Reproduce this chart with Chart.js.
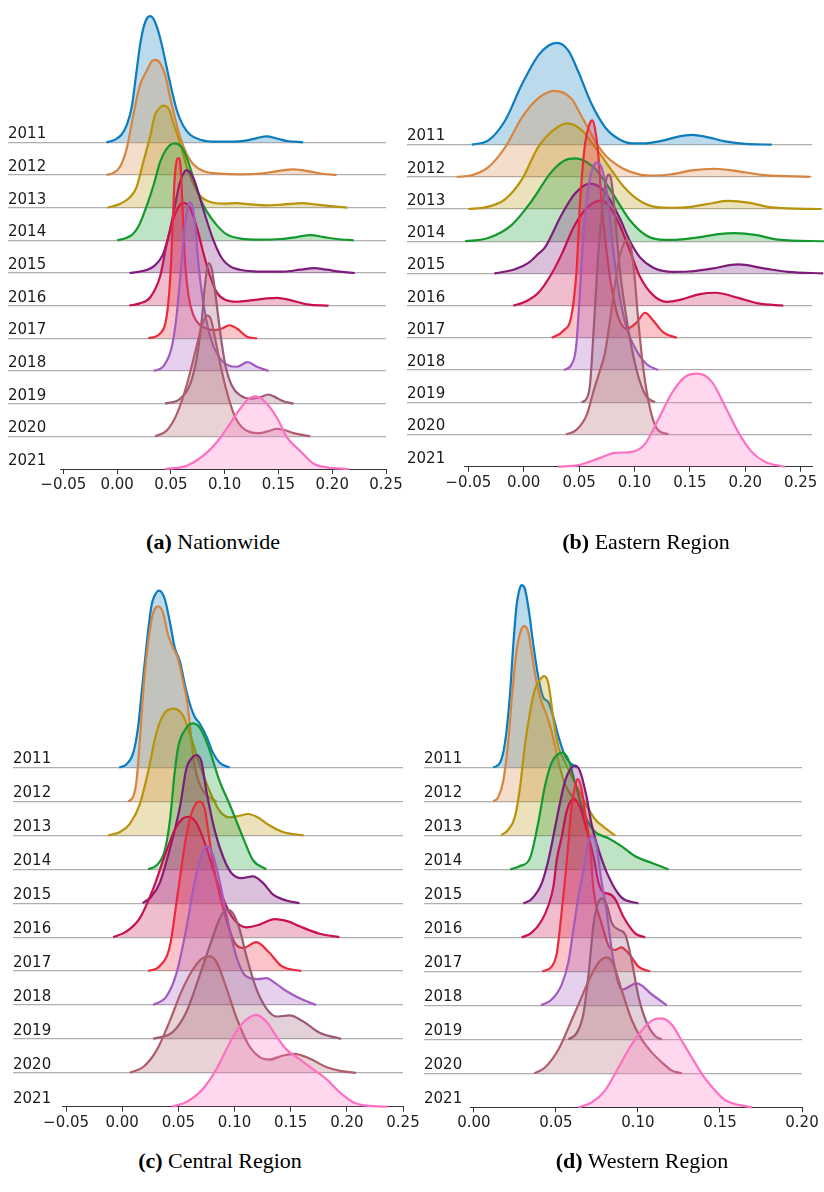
<!DOCTYPE html>
<html lang="en">
<head>
  <meta charset="UTF-8">
  <title>Ridgeline density by region, 2011-2021</title>
  <script src="https://cdn.jsdelivr.net/npm/chart.js"></script>
  <style>
    body { margin: 0; background: #fff; }
    #page { position: relative; width: 824px; height: 1192px; }
    canvas { position: absolute; }
    .cap {
      position: absolute;
      width: 400px;
      text-align: center;
      font-family: 'Liberation Serif', 'Times New Roman', serif;
      font-size: 22px;
      line-height: 24px;
      color: #000;
    }
  </style>
</head>
<body>
<div id="page">
  <canvas id="chartC" width="425" height="570" style="left:0;top:570px"></canvas>
  <canvas id="chartA" width="405" height="500" style="left:0;top:0"></canvas>
  <canvas id="chartB" width="419" height="500" style="left:405px;top:0"></canvas>
  <canvas id="chartD" width="419" height="570" style="left:405px;top:570px"></canvas>
  <div class="cap" style="left:13px;top:530px"><b>(a)</b> Nationwide</div>
  <div class="cap" style="left:446px;top:530px"><b>(b)</b> Eastern Region</div>
  <div class="cap" style="left:20px;top:1149px"><b>(c)</b> Central Region</div>
  <div class="cap" style="left:442px;top:1149px"><b>(d)</b> Western Region</div>
</div>

<script>
// years, top row first
var years = ['2011', '2012', '2013', '2014', '2015', '2016', '2017', '2018', '2019', '2020', '2021'];

// x tick values
var ticksWide = [-0.05, 0.00, 0.05, 0.10, 0.15, 0.20, 0.25];
var ticksWest = [0.00, 0.05, 0.10, 0.15, 0.20];

// density curves: [x, height in rows], one list per year
var nationwide = [
  [[-0.010,0],[-0.002,0.08],[0.004,0.23],[0.009,0.53],[0.0136,1.08],[0.0177,2.08],[0.0214,2.99],[0.0251,3.58],[0.0282,3.82],[0.0307,3.86],[0.0338,3.78],[0.0375,3.48],[0.0416,2.98],[0.0462,2.28],[0.0509,1.58],[0.0555,0.98],[0.0611,0.53],[0.0679,0.23],[0.0772,0.08],[0.093,0.02],[0.108,0.02],[0.121,0.06],[0.130,0.13],[0.139,0.18],[0.149,0.11],[0.158,0.04],[0.173,0]],
  [[-0.010,0],[-0.003,0.07],[0.003,0.27],[0.009,0.82],[0.015,1.82],[0.021,2.72],[0.028,3.22],[0.032,3.47],[0.036,3.52],[0.040,3.42],[0.045,3.03],[0.049,2.42],[0.054,1.72],[0.059,1.12],[0.065,0.62],[0.071,0.32],[0.080,0.12],[0.096,0.04],[0.115,0.02],[0.133,0.04],[0.149,0.12],[0.164,0.17],[0.180,0.10],[0.192,0.03],[0.204,0]],
  [[-0.009,0],[0.003,0.12],[0.012,0.32],[0.018,0.62],[0.0245,1.42],[0.031,2.22],[0.035,2.82],[0.040,3.07],[0.043,3.12],[0.048,3.02],[0.052,2.62],[0.059,1.92],[0.065,1.22],[0.071,0.72],[0.077,0.37],[0.087,0.17],[0.099,0.12],[0.111,0.14],[0.124,0.10],[0.139,0.07],[0.155,0.10],[0.172,0.14],[0.186,0.09],[0.201,0.04],[0.214,0]],
  [[0.000,0],[0.009,0.08],[0.015,0.20],[0.021,0.50],[0.028,1.10],[0.034,1.70],[0.040,2.40],[0.046,2.80],[0.053,2.97],[0.060,2.85],[0.065,2.50],[0.071,1.90],[0.077,1.30],[0.083,0.90],[0.093,0.45],[0.102,0.18],[0.115,0.05],[0.133,0.02],[0.152,0.04],[0.167,0.10],[0.180,0.16],[0.192,0.10],[0.204,0.04],[0.220,0]],
  [[0.0115,0],[0.021,0.04],[0.034,0.20],[0.043,0.60],[0.049,1.30],[0.054,2.10],[0.0586,2.80],[0.0648,3.15],[0.071,2.90],[0.077,2.30],[0.0834,1.60],[0.0896,1.00],[0.0974,0.45],[0.105,0.20],[0.1145,0.10],[0.127,0.05],[0.139,0.04],[0.155,0.04],[0.170,0.10],[0.183,0.15],[0.195,0.10],[0.2075,0.04],[0.221,0]],
  [[0.0115,0],[0.021,0.07],[0.0307,0.25],[0.040,0.90],[0.0462,1.90],[0.0524,2.65],[0.0571,3.02],[0.0617,3.15],[0.0679,2.98],[0.0741,2.40],[0.0803,1.60],[0.0865,0.90],[0.0928,0.40],[0.1005,0.18],[0.112,0.12],[0.124,0.16],[0.139,0.22],[0.149,0.24],[0.161,0.17],[0.1765,0.04],[0.1966,0]],
  [[0.0291,0],[0.040,0.15],[0.0462,0.70],[0.0493,1.80],[0.0515,3.30],[0.0533,4.80],[0.0555,5.45],[0.0570,5.52],[0.0592,5.20],[0.0611,3.80],[0.0633,2.30],[0.0664,1.30],[0.0710,0.70],[0.0772,0.40],[0.0834,0.30],[0.0896,0.25],[0.0974,0.30],[0.1045,0.40],[0.1114,0.30],[0.1207,0.05],[0.130,0]],
  [[0.0338,0],[0.0431,0.15],[0.0509,0.75],[0.0555,1.75],[0.0602,3.45],[0.0633,4.55],[0.0673,5.16],[0.0704,5.00],[0.0726,4.45],[0.0757,3.25],[0.0803,2.05],[0.0865,1.05],[0.0943,0.45],[0.1036,0.17],[0.1114,0.13],[0.1213,0.27],[0.130,0.13],[0.1408,0]],
  [[0.0447,0],[0.0586,0.15],[0.0679,0.60],[0.0741,1.40],[0.0788,2.60],[0.0819,3.70],[0.0850,4.30],[0.0881,4.10],[0.0912,3.40],[0.0958,2.20],[0.1005,1.20],[0.1067,0.55],[0.1145,0.25],[0.1238,0.15],[0.1331,0.20],[0.1408,0.28],[0.1470,0.20],[0.1540,0.08],[0.1641,0]],
  [[0.0354,0],[0.0462,0.18],[0.0555,0.68],[0.0648,1.58],[0.0726,2.58],[0.0788,3.38],[0.0834,3.70],[0.0872,3.58],[0.0912,2.98],[0.0974,1.98],[0.1036,1.18],[0.1098,0.58],[0.1160,0.28],[0.1238,0.13],[0.1331,0.10],[0.1424,0.18],[0.1486,0.23],[0.1548,0.20],[0.1641,0.10],[0.1796,0]],
  [[0.0447,0],[0.0648,0.10],[0.0834,0.50],[0.0958,0.95],[0.1051,1.40],[0.1145,1.85],[0.1222,2.15],[0.1284,2.22],[0.1362,2.10],[0.1486,1.57],[0.1579,0.97],[0.1703,0.55],[0.1827,0.16],[0.1951,0.05],[0.2153,0]]
];

var eastern = [
  [[-0.0469,0],[-0.0319,0.13],[-0.0169,0.74],[-0.0018,1.86],[0.0132,2.77],[0.0222,3.07],[0.0298,3.16],[0.0403,2.92],[0.0493,2.26],[0.0614,1.25],[0.0734,0.54],[0.0854,0.18],[0.0975,0.04],[0.1095,0.04],[0.1275,0.14],[0.1395,0.25],[0.1516,0.30],[0.1636,0.25],[0.1817,0.10],[0.1997,0.02],[0.2238,0]],
  [[-0.0605,0],[-0.0469,0.05],[-0.0319,0.30],[-0.0169,0.91],[-0.0018,1.83],[0.0132,2.44],[0.0276,2.67],[0.0433,2.42],[0.0510,1.95],[0.0583,1.50],[0.0673,0.95],[0.0749,0.62],[0.0899,0.25],[0.1050,0.07],[0.1185,0.04],[0.1335,0.08],[0.1516,0.20],[0.1726,0.25],[0.1937,0.17],[0.2178,0.05],[0.2584,0]],
  [[-0.0500,0],[-0.0349,0.05],[-0.0169,0.30],[-0.0018,0.91],[0.0132,1.93],[0.0282,2.49],[0.0397,2.66],[0.0523,2.45],[0.0598,2.13],[0.0749,1.42],[0.0899,0.71],[0.1050,0.25],[0.1200,0.06],[0.1350,0.04],[0.1486,0.06],[0.1697,0.18],[0.1847,0.25],[0.2027,0.20],[0.2238,0.05],[0.2690,0]],
  [[-0.0530,0],[-0.0319,0.10],[-0.0108,0.51],[0.0072,1.25],[0.0245,2.13],[0.0365,2.50],[0.0472,2.57],[0.0614,2.35],[0.0659,2.20],[0.0809,1.45],[0.0959,0.65],[0.1110,0.17],[0.1275,0.04],[0.1395,0.05],[0.1576,0.12],[0.1757,0.22],[0.1907,0.25],[0.2088,0.20],[0.2298,0.05],[0.2710,0]],
  [[-0.0265,0],[-0.0079,0.13],[0.0042,0.33],[0.0132,0.61],[0.0192,0.81],[0.0343,1.83],[0.0463,2.48],[0.0598,2.79],[0.0680,2.70],[0.0749,2.45],[0.0869,1.70],[0.0959,1.00],[0.1050,0.50],[0.1170,0.18],[0.1350,0.05],[0.1486,0.06],[0.1697,0.15],[0.1937,0.28],[0.2178,0.15],[0.2388,0.05],[0.2704,0]],
  [[-0.0094,0],[0.0012,0.12],[0.0132,0.40],[0.0253,1.00],[0.0343,1.60],[0.0453,2.45],[0.0574,3.05],[0.0704,3.27],[0.0839,2.70],[0.0959,1.70],[0.1050,0.90],[0.1170,0.32],[0.1291,0.12],[0.1411,0.18],[0.1591,0.36],[0.1727,0.40],[0.1937,0.24],[0.2117,0.07],[0.2343,0]],
  [[0.0253,0],[0.0357,0.22],[0.0433,0.73],[0.0478,2.15],[0.0508,4.18],[0.0553,6.01],[0.0598,6.67],[0.0619,6.75],[0.0643,6.50],[0.0673,5.70],[0.0704,4.18],[0.0749,2.66],[0.0794,1.54],[0.0854,0.63],[0.0930,0.28],[0.1020,0.48],[0.1095,0.78],[0.1170,0.53],[0.1260,0.17],[0.1381,0]],
  [[0.0364,0],[0.0433,0.18],[0.0472,0.69],[0.0502,2.11],[0.0538,4.14],[0.0583,5.66],[0.0628,6.32],[0.0664,6.45],[0.0704,6.27],[0.0749,5.56],[0.0794,4.14],[0.0854,2.52],[0.0930,1.30],[0.1020,0.59],[0.1110,0.18],[0.1215,0]],
  [[0.0523,0],[0.0568,0.12],[0.0598,0.53],[0.0628,2.05],[0.0673,4.59],[0.0718,6.31],[0.0749,6.98],[0.0770,7.07],[0.0794,6.82],[0.0824,5.80],[0.0869,4.08],[0.0930,2.56],[0.0989,1.44],[0.1050,0.63],[0.1110,0.17],[0.1185,0]],
  [[0.0382,0],[0.0478,0.15],[0.0569,0.61],[0.0628,1.32],[0.0689,2.00],[0.0734,2.54],[0.0779,3.55],[0.0824,4.67],[0.0869,5.58],[0.0905,5.94],[0.0935,6.04],[0.0966,5.84],[0.0996,5.07],[0.1035,3.50],[0.1080,2.03],[0.1140,0.81],[0.1200,0.20],[0.1305,0]],
  [[0.0312,0],[0.0493,0.05],[0.0673,0.25],[0.0824,0.43],[0.0975,0.46],[0.1095,0.71],[0.1215,1.47],[0.1336,2.28],[0.1456,2.79],[0.1570,2.89],[0.1697,2.64],[0.1817,1.88],[0.1937,1.07],[0.2058,0.46],[0.2178,0.15],[0.2358,0]]
];

var central = [
  [[-0.0027,0],[0.0039,0.10],[0.0098,0.43],[0.0142,1.21],[0.0172,2.17],[0.0217,3.62],[0.0261,4.78],[0.0306,5.17],[0.0329,5.22],[0.0379,4.97],[0.0424,4.30],[0.0468,3.53],[0.0513,3.14],[0.0557,2.46],[0.0602,1.88],[0.0646,1.49],[0.0690,1.30],[0.0750,0.92],[0.0809,0.43],[0.0868,0.14],[0.0957,0]],
  [[0.0053,0],[0.0098,0.14],[0.0128,0.63],[0.0157,1.79],[0.0187,3.24],[0.0231,4.69],[0.0276,5.56],[0.0320,5.75],[0.0364,5.56],[0.0409,4.90],[0.0453,4.54],[0.0498,4.20],[0.0542,3.53],[0.0578,2.95],[0.0608,2.08],[0.0637,1.21],[0.0676,0.63],[0.0735,0.24],[0.0839,0]],
  [[-0.0124,0],[-0.0020,0.10],[0.0068,0.34],[0.0157,0.92],[0.0231,1.88],[0.0306,3.04],[0.0379,3.62],[0.0459,3.74],[0.0542,3.53],[0.0617,2.85],[0.0690,2.08],[0.0779,1.30],[0.0868,0.72],[0.0957,0.53],[0.1046,0.58],[0.1120,0.63],[0.1209,0.53],[0.1313,0.29],[0.1431,0.10],[0.1615,0]],
  [[0.0231,0],[0.0306,0.12],[0.0379,0.55],[0.0424,1.42],[0.0468,2.87],[0.0498,3.60],[0.0557,4.10],[0.0626,4.30],[0.0690,4.18],[0.0764,3.65],[0.0839,2.88],[0.0868,2.59],[0.0957,1.91],[0.1075,0.94],[0.1164,0.27],[0.1283,0]],
  [[0.0181,0],[0.0261,0.20],[0.0335,0.60],[0.0424,1.60],[0.0513,2.82],[0.0572,3.98],[0.0617,4.27],[0.0661,4.37],[0.0706,4.17],[0.0750,3.30],[0.0824,2.14],[0.0898,1.37],[0.0972,0.89],[0.1061,0.74],[0.1164,0.79],[0.1253,0.60],[0.1342,0.26],[0.1461,0.08],[0.1579,0]],
  [[-0.0080,0],[0.0039,0.17],[0.0157,0.56],[0.0276,1.43],[0.0379,2.40],[0.0468,3.17],[0.0542,3.50],[0.0595,3.55],[0.0661,3.36],[0.0735,2.78],[0.0809,2.01],[0.0898,1.14],[0.0986,0.56],[0.1105,0.29],[0.1224,0.37],[0.1357,0.53],[0.1490,0.45],[0.1579,0.32],[0.1757,0.10],[0.1934,0]],
  [[0.0231,0],[0.0335,0.15],[0.0424,0.73],[0.0498,2.37],[0.0572,4.01],[0.0631,4.78],[0.0690,5.00],[0.0735,4.78],[0.0779,3.82],[0.0839,2.66],[0.0928,1.50],[0.1002,0.83],[0.1075,0.68],[0.1194,0.85],[0.1313,0.53],[0.1417,0.15],[0.1594,0]],
  [[0.0276,0],[0.0394,0.25],[0.0483,0.93],[0.0572,2.28],[0.0646,3.64],[0.0706,4.41],[0.0756,4.68],[0.0809,4.41],[0.0868,3.64],[0.0928,2.67],[0.1017,1.42],[0.1105,0.84],[0.1209,0.76],[0.1283,0.79],[0.1372,0.62],[0.1461,0.41],[0.1608,0.15],[0.1727,0]],
  [[0.0276,0],[0.0453,0.21],[0.0572,0.80],[0.0690,1.87],[0.0779,2.74],[0.0868,3.54],[0.0928,3.81],[0.0986,3.70],[0.1046,3.22],[0.1105,2.45],[0.1194,1.48],[0.1283,0.90],[0.1372,0.66],[0.1490,0.69],[0.1608,0.52],[0.1757,0.18],[0.1950,0]],
  [[0.0068,0],[0.0187,0.17],[0.0306,0.66],[0.0424,1.53],[0.0528,2.40],[0.0617,2.98],[0.0706,3.36],[0.0773,3.43],[0.0839,3.27],[0.0928,2.50],[0.1017,1.63],[0.1120,0.85],[0.1224,0.46],[0.1313,0.39],[0.1431,0.51],[0.1535,0.56],[0.1668,0.42],[0.1816,0.17],[0.1950,0.05],[0.2083,0]],
  [[0.0439,0],[0.0572,0.14],[0.0720,0.53],[0.0839,1.11],[0.0957,1.88],[0.1046,2.37],[0.1135,2.64],[0.1194,2.71],[0.1283,2.51],[0.1372,2.08],[0.1461,1.69],[0.1579,1.40],[0.1698,1.11],[0.1816,0.82],[0.1935,0.43],[0.2053,0.14],[0.2172,0.03],[0.2364,0]]
];

var western = [
  [[0.0118,0],[0.0159,0.14],[0.0189,0.72],[0.0220,2.17],[0.0240,3.62],[0.0260,4.77],[0.0281,5.30],[0.0291,5.37],[0.0311,5.26],[0.0336,4.58],[0.0362,3.62],[0.0393,2.65],[0.0423,2.06],[0.0454,1.92],[0.0484,1.49],[0.0515,0.92],[0.0555,0.34],[0.0596,0.10],[0.0627,0]],
  [[0.0118,0],[0.0148,0.13],[0.0179,0.61],[0.0209,1.77],[0.0234,3.21],[0.0260,4.45],[0.0287,5.04],[0.0307,5.16],[0.0331,4.99],[0.0352,4.37],[0.0382,3.50],[0.0413,2.92],[0.0444,2.54],[0.0474,2.05],[0.0515,1.18],[0.0555,0.51],[0.0596,0.17],[0.0637,0]],
  [[0.0165,0],[0.0209,0.17],[0.0250,0.55],[0.0281,1.42],[0.0311,2.67],[0.0342,3.63],[0.0372,4.30],[0.0403,4.59],[0.0429,4.69],[0.0454,4.47],[0.0484,3.45],[0.0515,2.60],[0.0555,2.16],[0.0596,1.74],[0.0637,1.35],[0.0688,0.87],[0.0738,0.48],[0.0800,0.22],[0.0861,0]],
  [[0.0220,0],[0.0281,0.10],[0.0342,0.34],[0.0393,1.40],[0.0433,2.46],[0.0474,3.14],[0.0540,3.44],[0.0576,3.23],[0.0616,2.56],[0.0677,1.59],[0.0738,1.11],[0.0820,0.92],[0.0901,0.68],[0.0983,0.39],[0.1085,0.19],[0.1187,0]],
  [[0.0301,0],[0.0352,0.13],[0.0413,0.59],[0.0454,1.28],[0.0515,2.73],[0.0555,3.60],[0.0586,3.94],[0.0616,4.06],[0.0647,3.89],[0.0688,3.11],[0.0717,2.34],[0.0779,1.30],[0.0840,0.60],[0.0901,0.17],[0.1003,0]],
  [[0.0291,0],[0.0352,0.14],[0.0413,0.50],[0.0454,0.94],[0.0485,1.51],[0.0505,2.29],[0.0535,2.96],[0.0566,3.73],[0.0606,4.07],[0.0647,3.83],[0.0688,3.15],[0.0729,2.38],[0.0760,1.60],[0.0790,1.32],[0.0820,1.29],[0.0861,1.13],[0.0912,0.60],[0.0983,0.12],[0.1044,0]],
  [[0.0417,0],[0.0474,0.14],[0.0505,0.53],[0.0525,1.30],[0.0546,2.27],[0.0566,3.23],[0.0596,4.87],[0.0616,5.45],[0.0633,5.66],[0.0657,5.35],[0.0677,4.68],[0.0708,3.71],[0.0728,2.46],[0.0779,1.40],[0.0830,0.68],[0.0861,0.63],[0.0897,0.71],[0.0944,0.53],[0.1003,0.14],[0.1074,0]],
  [[0.0409,0],[0.0474,0.17],[0.0535,0.61],[0.0576,1.28],[0.0607,2.25],[0.0637,3.21],[0.0668,3.98],[0.0695,4.75],[0.0718,4.99],[0.0749,4.66],[0.0770,3.89],[0.0810,2.73],[0.0845,1.48],[0.0901,0.46],[0.0993,0.65],[0.1085,0.32],[0.1176,0]],
  [[0.0576,0],[0.0627,0.19],[0.0668,0.77],[0.0699,1.93],[0.0729,3.38],[0.0756,4.00],[0.0779,4.15],[0.0810,3.96],[0.0840,3.43],[0.0881,3.23],[0.0922,3.09],[0.0962,2.31],[0.1003,1.26],[0.1054,0.48],[0.1104,0.10],[0.1145,0]],
  [[0.0368,0],[0.0433,0.17],[0.0515,0.70],[0.0596,1.57],[0.0657,2.25],[0.0718,2.92],[0.0769,3.31],[0.0810,3.41],[0.0850,3.21],[0.0901,2.44],[0.0962,1.57],[0.1024,0.99],[0.1085,0.61],[0.1146,0.32],[0.1207,0.08],[0.1268,0]],
  [[0.0637,0],[0.0718,0.14],[0.0800,0.50],[0.0881,1.17],[0.0962,1.85],[0.1044,2.38],[0.1105,2.60],[0.1146,2.62],[0.1207,2.43],[0.1268,1.95],[0.1329,1.46],[0.1390,0.98],[0.1451,0.60],[0.1532,0.21],[0.1613,0.07],[0.1695,0]]
];

// one colour per year
var lineColors = ['#0b7dbf', '#d6843f', '#b8930c', '#14992e', '#7c1d7c', '#c9114f',
                  '#ec2a3c', '#a35bc0', '#9c5a77', '#b05d6b', '#ff6fc1'];

Chart.defaults.font.family = "'DejaVu Sans', sans-serif";
Chart.defaults.font.size = 15;
Chart.defaults.color = '#1a1a1a';

function withAlpha(hex, a) {
  var n = parseInt(hex.slice(1), 16);
  return 'rgba(' + (n >> 16) + ',' + ((n >> 8) & 255) + ',' + (n & 255) + ',' + a + ')';
}

function fmtTick(v) {
  var s = Math.abs(v).toFixed(2);
  return v < -1e-9 ? '\u2212' + s : s;
}

function ridge(id, curves, xTicks, box) {
  var top = years.length - 1;
  var datasets = curves.map(function (pts, i) {
    var base = top - i;
    return {
      label: years[i],
      data: pts.map(function (p) { return { x: p[0], y: base + p[1] }; }),
      borderColor: lineColors[i],
      backgroundColor: withAlpha(lineColors[i], 0.28),
      borderWidth: 2.2,
      pointRadius: 0,
      cubicInterpolationMode: 'monotone',
      fill: { value: base },
      order: top - i,
      clip: false
    };
  });

  return new Chart(document.getElementById(id), {
    type: 'line',
    data: { datasets: datasets },
    options: {
      responsive: false,
      animation: false,
      layout: { padding: { left: box.padL, right: box.padR, top: 0, bottom: 0 } },
      plugins: { legend: { display: false }, tooltip: { enabled: false } },
      scales: {
        x: {
          type: 'linear',
          min: box.xMin,
          max: box.xMax,
          afterBuildTicks: function (s) { s.ticks = xTicks.map(function (v) { return { value: v }; }); },
          afterFit: function (s) { s.height = box.axisH; s.paddingLeft = 0; s.paddingRight = 0; },
          ticks: { callback: fmtTick, padding: 2, maxRotation: 0, autoSkip: false, color: '#222' },
          grid: { drawOnChartArea: false, drawTicks: true, tickLength: 5, color: '#333' },
          border: { color: '#333', width: 1 }
        },
        y: {
          type: 'linear',
          min: 0,
          max: box.yMax,
          afterBuildTicks: function (s) { s.ticks = years.map(function (y, i) { return { value: top - i }; }); },
          afterFit: function (s) { s.width = box.axisW; },
          ticks: {
            callback: function (v) { return years[top - v]; },
            crossAlign: 'far',
            padding: 0,
            labelOffset: -8,
            autoSkip: false
          },
          grid: {
            color: function (ctx) {
              return ctx.tick && ctx.tick.value === 0 ? 'rgba(0,0,0,0)' : 'rgba(110,110,110,0.55)';
            },
            lineWidth: 1.2,
            drawTicks: true,
            tickLength: box.axisW
          },
          border: { display: false }
        }
      }
    }
  });
}

ridge('chartA', nationwide, ticksWide,
  { xMin: -0.0531, xMax: 0.25, yMax: 14.08, padL: 8, padR: 19, axisW: 52, axisH: 31 });
ridge('chartB', eastern, ticksWide,
  { xMin: -0.0539, xMax: 0.2602, yMax: 14.21, padL: 2, padR: 12, axisW: 57, axisH: 33.3 });
ridge('chartC', central, ticksWide,
  { xMin: -0.0536, xMax: 0.25, yMax: 15.56, padL: 13, padR: 22, axisW: 49, axisH: 33.3 });
ridge('chartD', western, ticksWest,
  { xMin: -0.0024, xMax: 0.20, yMax: 15.55, padL: 19, padR: 22, axisW: 46, axisH: 32.7 });
</script>
</body>
</html>
